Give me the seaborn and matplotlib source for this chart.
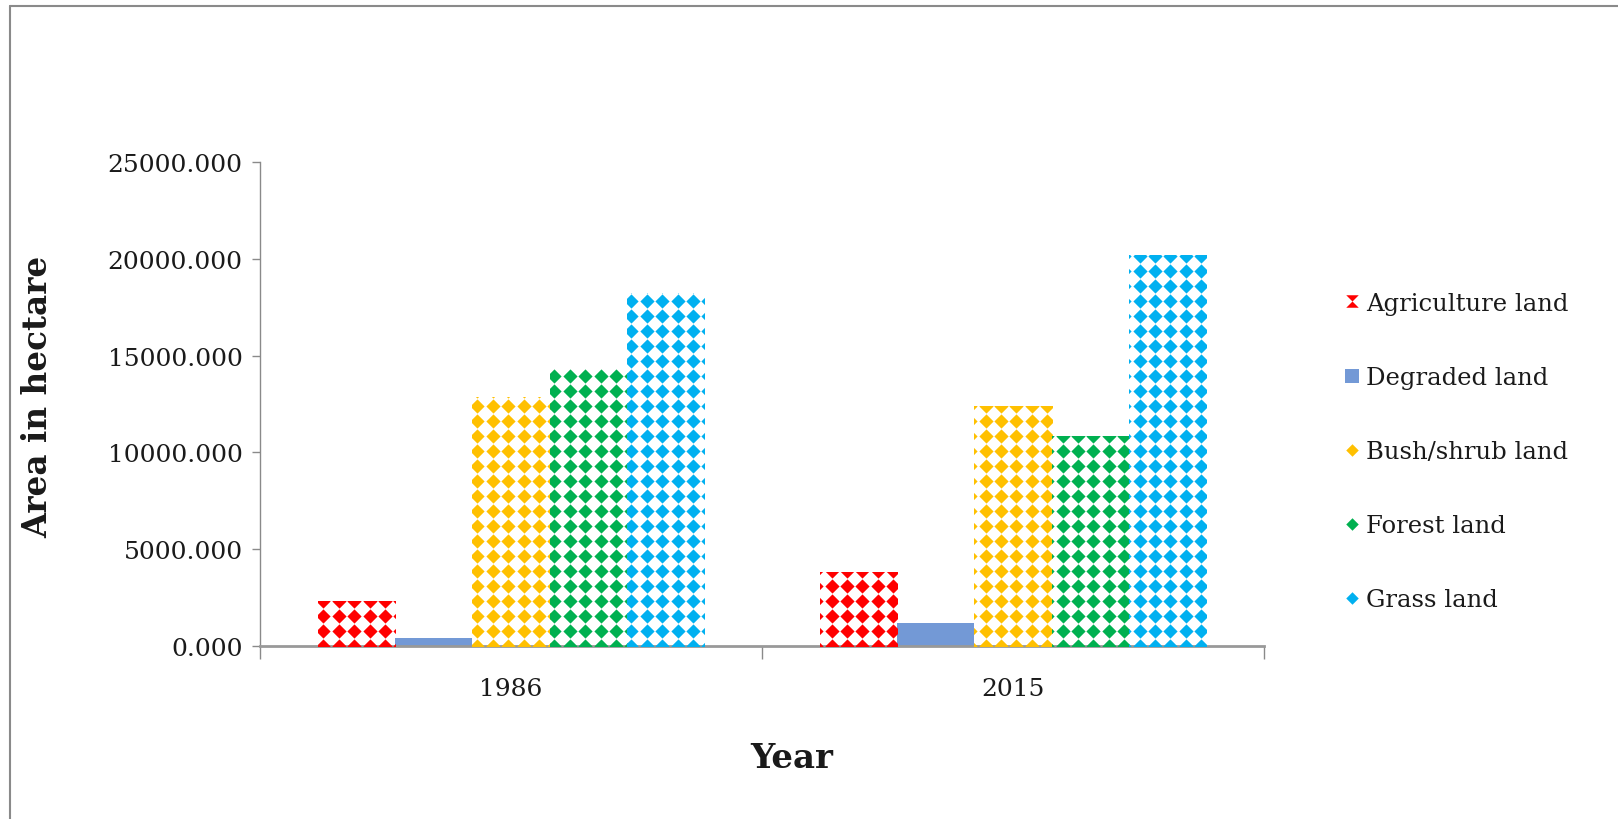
import numpy as np
import pandas as pd
import matplotlib
matplotlib.use("Agg")
import matplotlib.pyplot as plt
from matplotlib.path import Path
from matplotlib.lines import Line2D
from matplotlib.ticker import FixedLocator, FormatStrFormatter
import seaborn as sns

# ---- data -------------------------------------------------------------
years = ["1986", "2015"]
land_classes = ["Agriculture land", "Degraded land", "Bush/shrub land",
                "Forest land", "Grass land"]
area_1986 = [2350, 400, 12850, 14300, 18250]
area_2015 = [3830, 1190, 12380, 10830, 20200]
y_ticks = [0, 5000, 10000, 15000, 20000, 25000]

class_colors = ["#FF0000", "#7399D6", "#FFC000", "#00B050", "#00B0F0"]
patterned = [True, False, True, True, True]

df = pd.DataFrame({
    "Year": np.repeat(years, len(land_classes)),
    "Class": land_classes * len(years),
    "Area": area_1986 + area_2015,
})

# ---- style ------------------------------------------------------------
sns.set_theme(style="white")
plt.rcParams["font.family"] = ["DejaVu Serif"]
TXT = "#1a1a1a"
AXC = "#8a8a8a"

W, H, DPI = 1618, 820, 100
fig = plt.figure(figsize=(W / DPI, H / DPI), dpi=DPI)
fig.patch.set_facecolor("white")
ax = fig.add_axes([260 / W, 1 - 647 / H, (1264 - 260) / W, (647 - 163) / H])

sns.barplot(data=df, x="Year", y="Area", hue="Class", order=years,
            hue_order=land_classes, palette=class_colors, width=0.77,
            saturation=1, errorbar=None, legend=False, ax=ax)
ax.set_xlim(-0.5, 1.5)
ax.set_ylim(0, 25000)

# ---- diamond fill pattern on bars ------------------------------------
diamond = Path([(0, 1), (1, 0), (0, -1), (-1, 0), (0, 1)],
               [Path.MOVETO, Path.LINETO, Path.LINETO, Path.LINETO, Path.CLOSEPOLY])
step_x, step_y = 15.4, 15.0
base_px = ax.transData.transform((0, 0))[1]
inv = ax.transData.inverted()

for container, color, pat in zip(ax.containers, class_colors, patterned):
    for bar in container:
        bar.set_edgecolor("none")
        if not pat:
            bar.set_facecolor(color)
            continue
        bar.set_facecolor("white")
        x0, y0 = bar.get_x(), bar.get_y()
        x1, y1 = x0 + bar.get_width(), y0 + bar.get_height()
        (px0, py0), (px1, py1) = ax.transData.transform([(x0, y0), (x1, y1)])
        cols = np.arange(np.floor(px0 / step_x) - 1, np.ceil(px1 / step_x) + 2) * step_x
        rows = base_px + np.arange(-1, np.ceil((py1 - base_px) / step_y) + 2) * step_y
        gx, gy = np.meshgrid(cols, rows)
        pts = inv.transform(np.column_stack([gx.ravel(), gy.ravel()]))
        sc = ax.scatter(pts[:, 0], pts[:, 1], marker=diamond, s=105,
                        color=color, linewidths=0, zorder=3)
        sc.set_clip_path(bar)

# ---- axes -------------------------------------------------------------
sns.despine(ax=ax, top=True, right=True)
ax.spines["left"].set_color(AXC)
ax.spines["left"].set_linewidth(1.0)
ax.spines["bottom"].set_color("#999999")
ax.spines["bottom"].set_linewidth(2.0)

ax.yaxis.set_major_locator(FixedLocator(y_ticks))
ax.yaxis.set_major_formatter(FormatStrFormatter("%.3f"))
ax.tick_params(axis="y", which="major", direction="out", length=6, width=1,
               color=AXC, pad=6.5, labelsize=18, labelcolor=TXT, left=True)

ax.set_xticks([0, 1])
ax.set_xticklabels(years)
ax.set_xticks([-0.5, 0.5, 1.5], minor=True)
ax.tick_params(axis="x", which="major", length=0, pad=22,
               labelsize=18, labelcolor=TXT)
ax.tick_params(axis="x", which="minor", direction="out", length=9, width=1,
               color=AXC, bottom=True)

ax.set_xlabel("Year", fontsize=24.5, fontweight="bold", color=TXT)
ax.set_ylabel("Area in hectare", fontsize=23.5, fontweight="bold", color=TXT)
ax.xaxis.set_label_coords((792 - 260) / 1004, (647 - 758) / 484)
ax.yaxis.set_label_coords((38 - 260) / 1004, (647 - 397) / 484)
ax.xaxis.label.set_verticalalignment("center")
ax.yaxis.label.set_verticalalignment("center")

# ---- legend -----------------------------------------------------------
hourglass = Path([(-1, 1), (1, 1), (0, 0), (1, -1), (-1, -1), (0, 0), (-1, 1)],
                 [Path.MOVETO] + [Path.LINETO] * 5 + [Path.CLOSEPOLY])
legend_markers = [hourglass, "s", diamond, diamond, diamond]
legend_sizes = [9, 10, 9, 9, 9]
handles = [Line2D([], [], linestyle="none", marker=m, markersize=ms,
                  markerfacecolor=c, markeredgewidth=0)
           for m, ms, c in zip(legend_markers, legend_sizes, class_colors)]
leg = ax.legend(handles, land_classes, loc="upper left",
                bbox_to_anchor=(1345 / W, 1 - 293 / H),
                bbox_transform=fig.transFigure, frameon=False, fontsize=17.5,
                labelspacing=2.1, handlelength=0.55, handletextpad=0.3,
                borderpad=0, borderaxespad=0)
for t in leg.get_texts():
    t.set_color(TXT)

# ---- outer frame ------------------------------------------------------
fig.add_artist(Line2D([10 / W, 1], [1 - 7 / H, 1 - 7 / H],
                      transform=fig.transFigure, color=AXC, lw=1.5))
fig.add_artist(Line2D([10 / W, 10 / W], [0, 1 - 7 / H],
                      transform=fig.transFigure, color=AXC, lw=1.5))

fig.savefig("out.png", dpi=DPI, facecolor="white")
